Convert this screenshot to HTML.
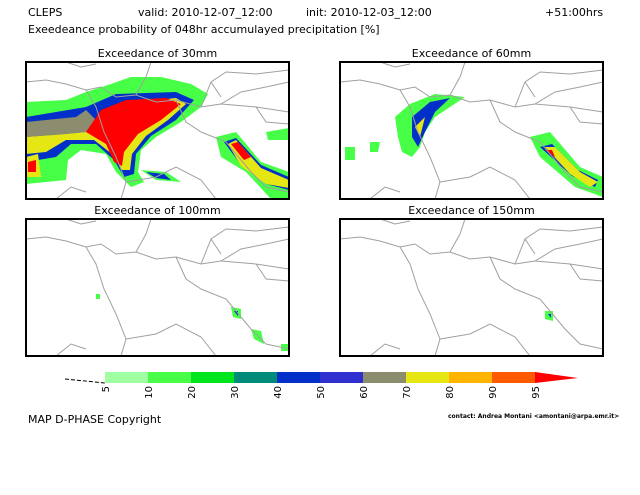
<!DOCTYPE html>
<html><head><meta charset="utf-8"><style>
body{margin:0;background:#fff;width:640px;height:495px;overflow:hidden;font-family:"DejaVu Sans","Liberation Sans",sans-serif}
svg{display:block}
text{font-family:"DejaVu Sans","Liberation Sans",sans-serif;fill:#000}
</style></head><body>
<svg width="640" height="495">
<text x="28" y="16" font-size="11">CLEPS</text>
<text x="138" y="16" font-size="11">valid: 2010-12-07_12:00</text>
<text x="306" y="16" font-size="11">init: 2010-12-03_12:00</text>
<text x="545" y="16" font-size="11">+51:00hrs</text>
<text x="28" y="33" font-size="11">Exeedeance probability of 048hr accumulayed precipitation [%]</text>
<g id="panels"></g>
<g id="cbar"></g>
<text x="28" y="423" font-size="11">MAP D-PHASE Copyright</text>
<text x="448" y="418" font-size="6" font-weight="bold">contact: Andrea Montani &lt;amontani@arpa.emr.it&gt;</text>
</svg>
<script>
const levels=["5","10","20","30","40","50","60","70","80","90","95"];
const colors=["#a0ffa0","#46ff46","#00e61e","#008c78","#0030c8","#3030d0","#8c8c6e","#e6e614","#ffb400","#ff5a00"];
const panelTitles=["Exceedance of 30mm","Exceedance of 60mm","Exceedance of 100mm","Exceedance of 150mm"];
const NS="http://www.w3.org/2000/svg";
function mk(t,a,p){const e=document.createElementNS(NS,t);for(const k in a)e.setAttribute(k,a[k]);p.appendChild(e);return e;}
const cb=document.getElementById('cbar');
const x0=105,x1=535,y0=372,h=11,w=(x1-x0)/colors.length;
function cx(i){return x0+i*w;}
mk('polyline',{points:`65,379 ${x0},383`,stroke:'#000','stroke-dasharray':'4,2',fill:'none'},cb);
colors.forEach((c,i)=>{const r=mk('rect',{x:cx(i),y:y0,width:w+0.5,height:h,fill:c},cb);

});
const ar=mk('polygon',{points:`${x1},${y0} ${x1+43},${y0+6} ${x1},${y0+h}`,fill:'#ff0000'},cb);


levels.forEach((l,i)=>{const t=mk('text',{x:0,y:0,'font-size':'10',transform:`translate(${cx(i)+4},386) rotate(-90)`,'text-anchor':'end'},cb);t.textContent=l;

});
const P=document.getElementById('panels');
const boxes=[[26,62],[340,62],[26,219],[340,219]];
const PW=263,PH=137;
const border="M0,20 L20,18 L40,22 L60,28 L75,25 L90,35 L110,33 L130,40 L150,38 L175,45 L195,42 L215,30 L240,25 L263,20 M60,28 L70,45 L78,70 L90,95 L100,120 L95,137 M150,38 L160,60 L175,70 L200,80 L225,110 L240,125 L263,130 M110,33 L120,15 L125,0 M175,45 L185,20 L200,10 L230,12 L263,8 M195,42 L230,45 L263,50 M100,120 L130,115 L150,105 L175,118 L190,137 M40,0 L55,5 L70,2 M30,137 L45,125 L60,130 M185,20 L195,35 M230,45 L240,60 L263,62";
const blobs=[
 [["#46ff46","0,40 40,38 60,30 85,22 105,15 135,15 165,22 182,32 175,45 155,60 130,75 115,88 112,110 118,120 105,125 90,110 80,92 55,88 42,98 40,118 0,122"],
  ["#0030c8","0,55 60,45 90,32 150,30 168,38 150,58 125,74 110,92 108,112 98,115 88,98 70,82 45,82 30,95 0,100"],
  ["#8c8c6e","0,60 50,55 60,48 70,58 60,70 40,72 0,75"],
  ["#e6e614","0,75 40,72 60,70 70,58 95,42 150,36 160,42 142,58 120,74 106,92 104,108 96,108 86,92 68,78 40,78 20,90 0,92"],
  ["#ff0000","60,70 75,48 100,38 140,36 155,42 135,58 112,72 98,90 96,104 88,100 80,82"],
  ["#46ff46","190,75 210,70 235,100 263,110 263,137 245,137 220,110 195,95"],
  ["#0030c8","198,80 210,76 235,103 263,115 263,128 240,122 215,103"],
  ["#e6e614","202,82 210,78 235,106 263,118 263,126 240,122 215,104"],
  ["#ff0000","205,82 212,80 225,95 218,98"],
  ["#46ff46","115,108 140,110 155,120 130,118"],["#0030c8","120,110 138,112 145,118 130,116"],
  ["#e6e614","0,95 12,92 15,115 0,115"],["#ff0000","2,100 10,98 10,110 2,110"],
  ["#46ff46","240,70 263,66 263,78 242,78"]],
 [["#46ff46","55,55 70,42 95,32 125,35 110,45 95,55 85,70 80,85 72,95 62,90 58,75"],
  ["#0030c8","72,55 90,40 110,36 95,50 85,70 78,85 72,75"],
  ["#e6e614","75,65 85,55 80,75"],
  ["#46ff46","5,85 15,85 15,98 5,98"],["#46ff46","30,80 40,80 38,90 30,90"],
  ["#46ff46","190,75 210,70 240,105 263,115 263,135 235,125 200,95"],
  ["#0030c8","200,85 212,82 238,108 258,118 255,125 232,114"],
  ["#e6e614","205,85 215,85 240,110 258,120 250,125 230,112"],
  ["#ff0000","205,88 212,88 215,95"]],
 [["#46ff46","205,88 215,90 215,100 207,98"],["#0030c8","208,92 212,92 212,97"],
  ["#46ff46","225,110 235,112 238,125 228,120"],["#46ff46","255,125 263,125 263,132 255,132"],["#46ff46","70,75 74,75 74,80 70,80"]],
 [["#46ff46","205,92 213,92 213,102 205,100"],["#0030c8","208,95 211,95 211,99"]]
];
boxes.forEach(([bx,by],i)=>{
 const g=mk('g',{transform:`translate(${bx},${by})`},P);
 
 
 const cp=mk('clipPath',{id:'c'+i},g);
 mk('rect',{width:PW,height:PH},cp);
 const inner=mk('g',{'clip-path':`url(#c${i})`},g);
 blobs[i].forEach(([c,p])=>mk('polygon',{points:p,fill:c},inner));
 mk('path',{d:border,stroke:'#a0a0a0','stroke-width':1,fill:'none'},inner);
 mk('rect',{x:0,y:0,width:PW,height:PH,fill:'none',stroke:'#000','stroke-width':2},g);
 const t=mk('text',{x:PW/2,y:-5,'font-size':'11','text-anchor':'middle'},g);
 t.textContent=panelTitles[i];
 
 
});
</script>
</body></html>
